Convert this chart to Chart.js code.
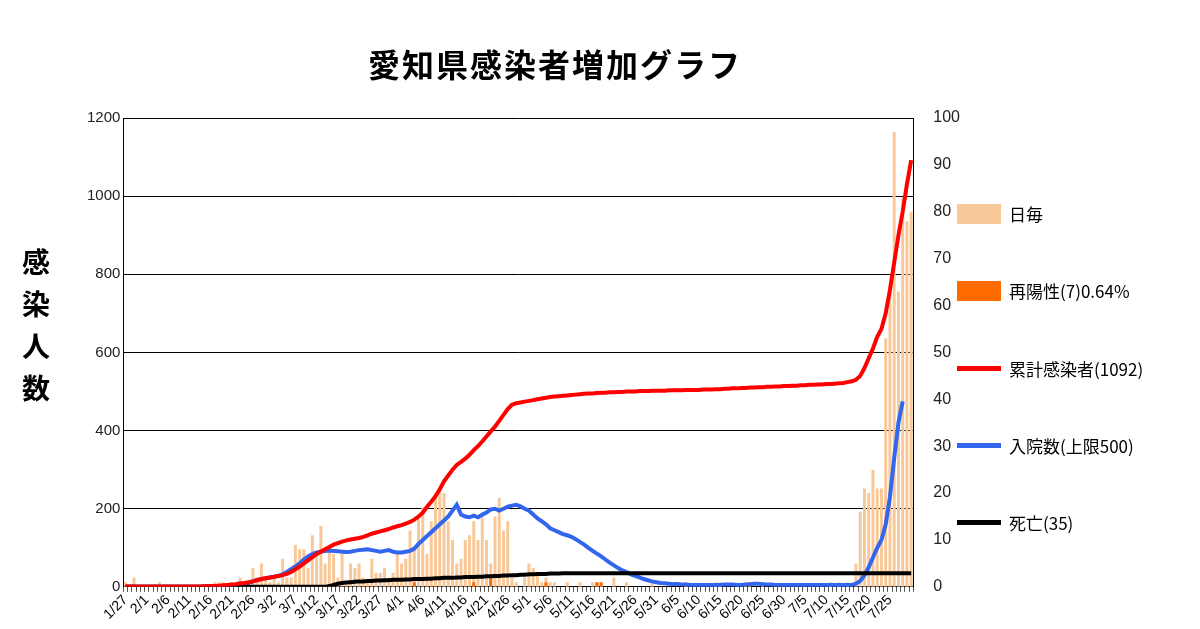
<!DOCTYPE html>
<html><head><meta charset="utf-8">
<script src="https://cdn.jsdelivr.net/npm/chart.js@4"></script>
<style>
body{margin:0;width:1200px;height:629px;background:#fff;font-family:"Liberation Sans",Arial,"Noto Sans CJK JP",sans-serif;overflow:hidden;position:relative}
#wrap{position:absolute;left:0;top:0;width:1200px;height:629px}
#title{position:absolute;left:0;width:1110px;top:40px;text-align:center;font:bold 32px "Noto Sans CJK JP";letter-spacing:2px}
#ytitle{position:absolute;left:16px;top:240px;width:40px;font:bold 28px "Noto Sans CJK JP";line-height:42px;text-align:center}
.lg{position:absolute;left:957px;font:17px "Noto Sans CJK JP","Liberation Sans";display:flex;align-items:center}
.sw{display:inline-block;width:44px;margin-right:8px}
</style></head><body>
<div id="wrap"><canvas id="c" width="1200" height="629"></canvas></div>
<div id="title">愛知県感染者増加グラフ</div>
<div id="ytitle">感<br>染<br>人<br>数</div>
<div class="lg" style="top:201px"><span class="sw" style="height:20px;background:#F9C898"></span>日毎</div>
<div class="lg" style="top:278px"><span class="sw" style="height:20px;background:#FF6A00"></span>再陽性(7)0.64%</div>
<div class="lg" style="top:356px"><span class="sw" style="height:5px;background:#FF0000"></span>累計感染者(1092)</div>
<div class="lg" style="top:433px"><span class="sw" style="height:5px;background:#3366EE"></span>入院数(上限500)</div>
<div class="lg" style="top:510px"><span class="sw" style="height:5px;background:#000"></span>死亡(35)</div>
<script>
// categories: 1/27 .. 7/30
const monthStarts = [[1,27,31],[2,1,29],[3,1,31],[4,1,30],[5,1,31],[6,1,30],[7,1,30]];
const categories = [];
monthStarts.forEach(([m,s,e])=>{for(let d=s;d<=e;d++)categories.push(m+'/'+d);});

const daily = [1,0,2,0,0,
0,0,0,1,0,0,0,0,0,0,0,0,0,0,0,0,1,1,1,0,1,1,2,1,1,4,2,5,2,
1,2,1,6,2,2,9,8,8,4,11,7,13,5,9,7,2,7,1,5,4,5,2,1,6,3,3,4,2,3,7,
5,6,12,8,15,17,7,14,20,21,20,14,10,5,6,10,11,14,10,15,10,5,15,19,12,14,2,1,0,2,
5,4,3,1,2,1,1,0,0,1,0,0,1,0,0,1,1,1,0,0,2,0,0,1,0,0,0,0,0,1,0,
0,0,0,0,0,0,1,0,0,0,0,0,0,1,1,0,0,0,0,0,1,1,0,0,1,0,0,0,0,0,
0,0,0,0,0,0,0,0,0,0,1,0,1,0,1,0,5,16,21,20,25,21,21,53,63,97,63,83,78,80];

const repositive = {'4/4':1,'4/18':1,'4/22':2,'5/5':1,'5/17':1,'5/18':1};

const cumulative = [1,1,1,1,1,
1,1,1,1,1,1,1,1,1,1,1,1,1,1,2,2,2,3,4,5,6,7,9,10,12,14,17,20,22,
24,26,28,30,33,38,45,52,60,68,76,84,90,96,102,108,112,116,119,121,123,125,128,132,136,139,142,145,148,152,155,
158,162,166,172,180,190,205,218,232,250,270,285,300,312,320,328,338,350,360,372,385,398,410,425,440,455,466,470,472,474,
476,478,480,482,484,486,487,488,489,490,491,492,493,494,495,495,496,497,497,498,498,499,499,500,500,500,501,501,501,502,502,
502,502,503,503,503,503,504,504,504,504,505,505,505,506,506,507,507,508,508,509,509,510,510,511,511,512,512,513,513,514,
514,515,515,516,516,517,517,518,518,519,519,520,521,522,524,526,530,540,560,585,610,640,660,700,760,830,900,960,1030,1092];

const hospital = [0,0,0,0,0,
0,0,0,0,0,0,0,0,0,0,0,0,0,0,0,0,0,0,0,0,1,2,4,6,10,14,18,20,22,
24,26,28,32,38,45,52,60,70,78,84,88,90,92,93,92,91,90,89,90,92,94,95,96,94,92,90,92,94,90,88,
88,90,92,98,110,120,130,140,150,160,170,180,195,210,185,180,178,182,178,185,190,198,200,195,200,205,208,210,206,200,
195,185,175,168,160,150,145,140,135,132,128,122,115,108,100,92,85,78,70,62,55,48,42,38,32,28,24,20,17,14,12,
10,9,8,7,7,6,6,5,5,5,5,5,5,5,5,6,6,6,5,5,6,7,8,8,7,6,6,5,5,5,
5,5,5,5,5,5,5,5,5,5,5,5,5,5,5,5,8,15,30,50,75,100,120,160,230,330,420,475,null,null];

const deaths = [0,0,0,0,0,
0,0,0,0,0,0,0,0,0,0,0,0,0,0,0,0,0,0,0,0,0,0,0,0,0,0,0,0,0,
0,0,0,0,0,0,0,0,0,0,0,0,0,0,2,5,8,10,11,12,13,14,14,15,15,16,16,17,17,18,18,
18,19,19,20,20,20,21,21,22,22,23,23,23,24,24,25,25,25,26,26,27,27,28,28,29,29,30,30,31,31,
32,32,33,33,33,34,34,34,35,35,35,35,35,35,35,35,35,35,35,35,35,35,35,35,35,35,35,35,35,35,35,
35,35,35,35,35,35,35,35,35,35,35,35,35,35,35,35,35,35,35,35,35,35,35,35,35,35,35,35,35,35,
35,35,35,35,35,35,35,35,35,35,35,35,35,35,35,35,35,35,35,35,35,35,35,35,35,35,35,35,35,35];

const repoSeries = categories.map(c => repositive[c] ?? null);

new Chart(document.getElementById('c'), {
  data: {
    labels: categories,
    datasets: [
      {type:'line', data:deaths, borderColor:'#000', borderWidth:4, pointRadius:0, yAxisID:'y', order:1},
      {type:'line', data:hospital, borderColor:'#3366EE', borderWidth:4, pointRadius:0, yAxisID:'y', order:1},
      {type:'line', data:cumulative, borderColor:'#FF0000', borderWidth:4, pointRadius:0, yAxisID:'y', order:0},
      {type:'bar', data:repoSeries, backgroundColor:'#FF6A00', yAxisID:'y2', barPercentage:0.7, categoryPercentage:1, grouped:false, order:2},
      {type:'bar', data:daily, backgroundColor:'#F9C898', yAxisID:'y2', barPercentage:0.7, categoryPercentage:1, grouped:false, order:3}
    ]
  },
  options: {
    responsive:false, animation:false,
    layout:{padding:{left:84, right:228, top:118, bottom:6}},
    plugins:{legend:{display:false}, tooltip:{enabled:false}},
    scales:{
      x:{grid:{display:true, drawOnChartArea:false, color:'#555', tickLength:5},
         border:{color:'#000'},
         ticks:{autoSkip:false, maxRotation:45, minRotation:45, color:'#000', padding:0,
           font:{family:'Liberation Sans', size:14},
           callback:(v,i)=> (i%5===0 && i<=180) ? categories[i] : ''}},
      y:{position:'left', min:0, max:1200,
         ticks:{stepSize:200, color:'#222', font:{family:'Liberation Sans', size:15}, callback:v=>String(v)},
         grid:{color:'#000', lineWidth:1, drawTicks:false}, border:{color:'#000'}},
      y2:{position:'right', min:0, max:100,
         ticks:{stepSize:10, color:'#222', padding:12, font:{family:'Liberation Sans', size:16}},
         grid:{display:false}, border:{color:'#000'}}
    }
  }
});
</script>
</body></html>
